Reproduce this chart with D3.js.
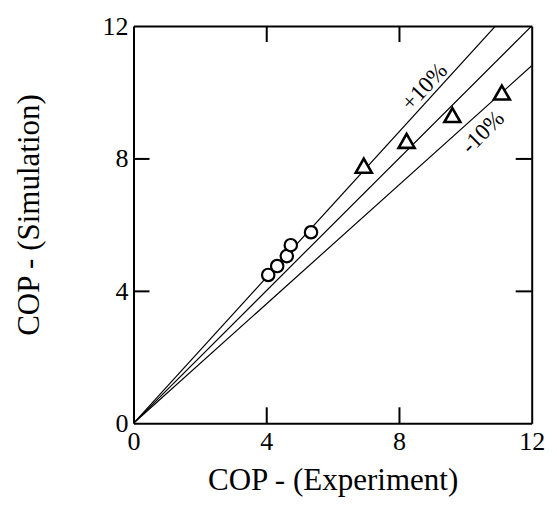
<!DOCTYPE html>
<html>
<head>
<meta charset="utf-8">
<script src="https://cdn.jsdelivr.net/npm/d3@7"></script>
<style>
  body { margin: 0; background: #fff; }
  text { font-family: "Liberation Serif", "Times New Roman", serif; fill: #000; }
</style>
</head>
<body>
<div id="svg-area"></div>
<script>
var svgWidth = 557;
var svgHeight = 506;

// data
var circleX = [4.06, 4.33, 4.62, 4.74, 5.35];
var circleY = [4.48, 4.75, 5.05, 5.38, 5.77];
var triangleX = [6.94, 8.23, 9.61, 11.10];
var triangleY = [7.78, 8.53, 9.31, 9.99];
var tickValues = [0, 4, 8, 12];
var lineFactors = [1.1, 1.0, 0.9];
var lineLabels = ["+10%", "-10%"];
var labelX = [8.76, 10.52];
var labelY = [10.17, 8.80];
var labelAngle = [-47, -45];

// frame edges (note: "top" is a reserved window property, so use plot* names)
var plotLeft = 133.5, plotRight = 531.7, plotTop = 26, plotBottom = 423.3;

var svg = d3.select("#svg-area")
  .append("svg")
  .attr("width", svgWidth)
  .attr("height", svgHeight);

var xScale = d3.scaleLinear().domain([0, 12]).range([plotLeft, plotRight]);
var yScale = d3.scaleLinear().domain([0, 12]).range([plotBottom, plotTop]);

// reference lines y = k x, clipped to the frame
svg.append("clipPath").attr("id", "plot-clip")
  .append("rect")
  .attr("x", plotLeft).attr("y", plotTop)
  .attr("width", plotRight - plotLeft).attr("height", plotBottom - plotTop);

var createLine = d3.line()
  .x(d => xScale(d[0]))
  .y(d => yScale(d[1]));

svg.append("g").attr("clip-path", "url(#plot-clip)")
  .selectAll("path")
  .data(lineFactors)
  .enter()
  .append("path")
  .attr("stroke", "black")
  .attr("stroke-width", 1.2)
  .attr("fill", "none")
  .attr("d", k => createLine([[0, 0], [12, 12 * k]]));

// axes with inward ticks on all four sides
function styleAxis(g) {
  g.selectAll("path.domain").attr("stroke-width", 2);
  g.selectAll(".tick line").attr("stroke-width", 2);
  g.selectAll(".tick text")
    .style("font-family", "'Liberation Serif', 'Times New Roman', serif")
    .style("font-size", "26px")
    .attr("fill", "#000");
}

svg.append("g")
  .attr("transform", "translate(0," + plotBottom + ")")
  .call(d3.axisBottom(xScale).tickValues(tickValues).tickSizeInner(-16).tickSizeOuter(0).tickPadding(27))
  .call(styleAxis)
  .selectAll(".tick text").attr("dy", "0");

svg.append("g")
  .attr("transform", "translate(0," + plotTop + ")")
  .call(d3.axisTop(xScale).tickValues(tickValues).tickSizeInner(-16).tickSizeOuter(0).tickFormat(""))
  .call(styleAxis);

svg.append("g")
  .attr("transform", "translate(" + plotLeft + ",0)")
  .call(d3.axisLeft(yScale).tickValues(tickValues).tickSizeInner(-16).tickSizeOuter(0).tickPadding(5))
  .call(styleAxis);

svg.append("g")
  .attr("transform", "translate(" + plotRight + ",0)")
  .call(d3.axisRight(yScale).tickValues(tickValues).tickSizeInner(-16).tickSizeOuter(0).tickFormat(""))
  .call(styleAxis);

// drop the end ticks that would sit on the frame corners
svg.selectAll(".tick line").filter(d => d === 0 || d === 12).remove();

// circle markers
svg.append("g")
  .selectAll("circle")
  .data(circleX)
  .enter()
  .append("circle")
  .attr("cx", d => xScale(d))
  .attr("cy", (d, i) => yScale(circleY[i]))
  .attr("r", 6.2)
  .attr("fill", "white")
  .attr("stroke", "black")
  .attr("stroke-width", 2.2);

// triangle markers, centred on their bounding box
var triW = 16, triH = 14;
svg.append("g")
  .selectAll("path")
  .data(triangleX)
  .enter()
  .append("path")
  .attr("transform", (d, i) => "translate(" + xScale(d) + "," + yScale(triangleY[i]) + ")")
  .attr("d", "M0," + (-triH / 2) + "L" + (triW / 2) + "," + (triH / 2) + "L" + (-triW / 2) + "," + (triH / 2) + "Z")
  .attr("fill", "white")
  .attr("stroke", "black")
  .attr("stroke-width", 2.6)
  .attr("stroke-linejoin", "miter");

// line labels
svg.append("g")
  .selectAll("text")
  .data(lineLabels)
  .enter()
  .append("text")
  .attr("transform", (d, i) => "translate(" + xScale(labelX[i]) + "," + yScale(labelY[i]) + ") rotate(" + labelAngle[i] + ")")
  .attr("text-anchor", "middle")
  .attr("dominant-baseline", "central")
  .style("font-size", "23px")
  .text(d => d);

// axis titles
svg.append("text")
  .attr("x", (plotLeft + plotRight) / 2 + 0.5)
  .attr("y", 490)
  .attr("text-anchor", "middle")
  .style("font-size", "31px")
  .text("COP - (Experiment)");

svg.append("text")
  .attr("transform", "translate(39,215) rotate(-90)")
  .attr("text-anchor", "middle")
  .style("font-size", "31px")
  .text("COP - (Simulation)");
</script>
</body>
</html>
